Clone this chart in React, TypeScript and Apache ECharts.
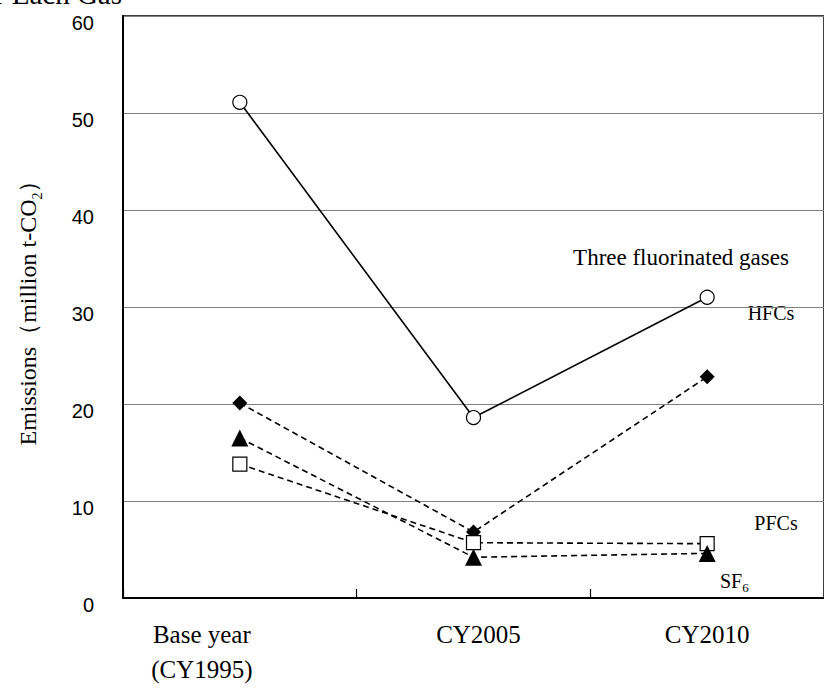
import React, { useEffect, useRef } from "react";
import * as echarts from "echarts";

const categories = ["Base year\n(CY1995)", "CY2005", "CY2010"];
const threeGases = [51.1, 18.6, 31.0];
const hfcs = [20.1, 6.8, 22.8];
const pfcs = [13.8, 5.7, 5.6];
const sf6 = [16.5, 4.2, 4.6];
const yTicks = [0, 10, 20, 30, 40, 50, 60];

const SERIF = "'Liberation Serif', 'Times New Roman', serif";
const SANS = "'Liberation Sans', Arial, sans-serif";

export default function App() {
  const ref = useRef<HTMLDivElement>(null);
  useEffect(() => {
    if (!ref.current) return;
    const chart = echarts.init(ref.current, null, { renderer: "svg" });
    const dashed = { color: "#000", width: 1.6, type: [6, 4] as any };
    const catData = categories.map((c, i) =>
      i === 0 ? { value: c, textStyle: { padding: [0, 76, 0, 0] } } : i === 1 ? { value: c, textStyle: { padding: [0, 0, 0, 10] } } : c
    );
    chart.setOption({
      animation: false,
      backgroundColor: "#fff",
      grid: {
        left: 123,
        top: 16,
        width: 714,
        height: 582,
        show: true,
        borderColor: "#000",
        borderWidth: 1.5,
        backgroundColor: "transparent",
      },
      xAxis: {
        type: "category",
        data: catData,
        boundaryGap: true,
        axisLine: { lineStyle: { color: "#000", width: 2 } },
        axisTick: { show: true, inside: true, length: 9, lineStyle: { color: "#000", width: 1.2 } },
        axisLabel: {
          fontFamily: SERIF,
          fontSize: 25,
          color: "#000",
          lineHeight: 35,
          margin: 19,
        },
      },
      yAxis: {
        type: "value",
        min: yTicks[0],
        max: yTicks[yTicks.length - 1],
        interval: 10,
        name: "{a|Emissions（million t-CO}{s|2}{a|）}",
        nameLocation: "middle",
        nameGap: 83,
        nameRotate: 90,
        nameTextStyle: {
          rich: {
            a: { fontFamily: SERIF, fontSize: 24, color: "#000" },
            s: { fontFamily: SERIF, fontSize: 14, color: "#000", verticalAlign: "bottom", padding: [0, 0, -4, 0] },
          },
        },
        axisLine: { show: true, lineStyle: { color: "#000", width: 2 } },
        axisTick: { show: false },
        axisLabel: { fontFamily: SANS, fontSize: 20, color: "#000", margin: 29, verticalAlign: "top", lineHeight: 20, padding: [-3, 0, 0, 0] },
        splitLine: { show: true, lineStyle: { color: "#808080", width: 1.2 } },
      },
      series: [
        {
          name: "Three fluorinated gases",
          type: "line",
          data: threeGases,
          symbol: "circle",
          symbolSize: 14,
          lineStyle: { color: "#000", width: 1.6 },
          itemStyle: { color: "#fff", borderColor: "#000", borderWidth: 1.2 },
          z: 5,
        },
        {
          name: "HFCs",
          type: "line",
          data: hfcs,
          symbol: "diamond",
          symbolSize: 15,
          lineStyle: dashed,
          itemStyle: { color: "#000", borderColor: "#000", borderWidth: 0 },
        },
        {
          name: "PFCs",
          type: "line",
          data: pfcs,
          symbol: "rect",
          symbolSize: 14,
          lineStyle: dashed,
          itemStyle: { color: "#fff", borderColor: "#000", borderWidth: 1.2 },
        },
        {
          name: "SF6",
          type: "line",
          data: sf6,
          symbol: "triangle",
          symbolSize: 17,
          lineStyle: dashed,
          itemStyle: { color: "#000", borderColor: "#000", borderWidth: 0 },
        },
      ],
      graphic: [
        {
          type: "text",
          x: 122,
          y: 8,
          style: {
            text: "Emissions for Each Gas",
            fontFamily: SERIF,
            fontSize: 29,
            fill: "#000",
            align: "right",
            verticalAlign: "bottom",
          },
        },
        {
          type: "text",
          x: 681,
          y: 257,
          style: { text: "Three fluorinated gases", fontFamily: SERIF, fontSize: 23, fill: "#000", align: "center", verticalAlign: "middle" },
        },
        {
          type: "text",
          x: 771,
          y: 313,
          style: { text: "HFCs", fontFamily: SERIF, fontSize: 20, fill: "#000", align: "center", verticalAlign: "middle" },
        },
        {
          type: "text",
          x: 776,
          y: 523,
          style: { text: "PFCs", fontFamily: SERIF, fontSize: 20, fill: "#000", align: "center", verticalAlign: "middle" },
        },
        {
          type: "text",
          x: 720,
          y: 581,
          style: {
            text: "{a|SF}{s|6}",
            align: "left",
            verticalAlign: "middle",
            rich: {
              a: { fontFamily: SERIF, fontSize: 20, fill: "#000" },
              s: { fontFamily: SERIF, fontSize: 13, fill: "#000", verticalAlign: "bottom", padding: [0, 0, -3, 0] },
            },
          },
        },
        {
          type: "text",
          x: 496,
          y: 686,
          style: { text: "18", fontFamily: SERIF, fontSize: 22, fill: "#000", align: "center", verticalAlign: "top" },
        },
      ],
    });
    return () => chart.dispose();
  }, []);
  return (
    <div
      ref={ref}
      style={{ position: "fixed", left: 0, top: 0, width: 824, height: 689, background: "#fff" }}
    />
  );
}
